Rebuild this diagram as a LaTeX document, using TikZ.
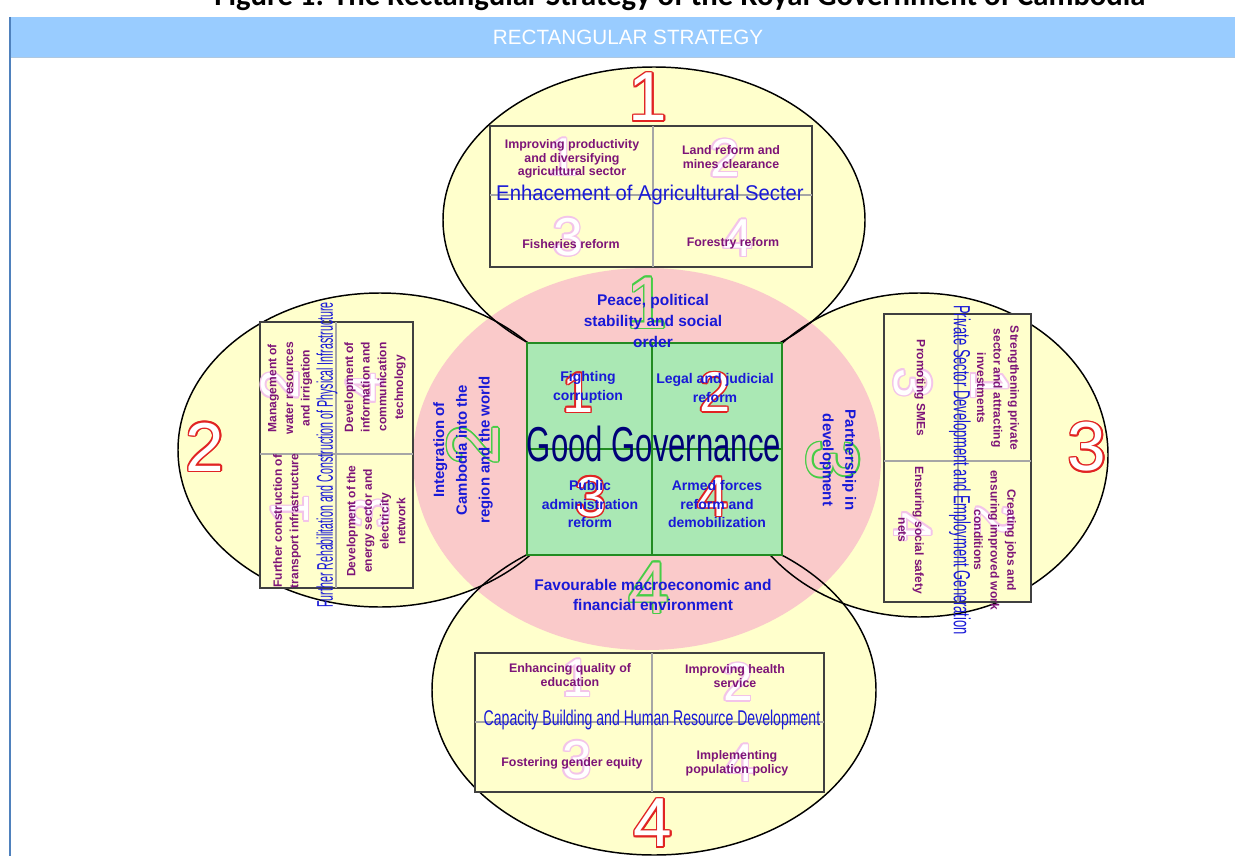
\documentclass[tikz,border=0pt]{standalone}
\usepackage{fontspec}
\setmainfont{Liberation Sans}
\newfontfamily\capfont{Carlito}
\usetikzlibrary{positioning}

\definecolor{bandblue}{RGB}{153,204,255}
\definecolor{frameblue}{RGB}{79,129,189}
\definecolor{petal}{RGB}{255,255,204}
\definecolor{ring}{RGB}{250,202,202}
\definecolor{core}{RGB}{170,232,180}
\definecolor{coreline}{RGB}{34,139,34}
\definecolor{goodblue}{RGB}{0,0,120}
\definecolor{inkblue}{RGB}{25,25,215}
\definecolor{plum}{RGB}{125,20,120}
\definecolor{numred}{RGB}{225,35,35}
\definecolor{numpale}{RGB}{243,196,233}
\definecolor{numgreen}{RGB}{70,205,70}

% outlined digit: name, position, rotation, size, line colour, fill colour, text
\newcommand{\hollow}[7]{%
  \foreach \ang in {0,30,...,330}
    \node[numtext, rotate=#3, text=#5, font=\fontsize{#4}{#4}\selectfont, shift={(\ang:1.5)}] at (#2) {#7};
  \node[numtext, rotate=#3, text=#6, font=\fontsize{#4}{#4}\selectfont] (#1) at (#2) {#7};
}

\begin{document}
\begin{tikzpicture}[x=0.75pt, y=-0.75pt,
    numtext/.style={inner sep=0pt},
    petaledge/.style={draw=black, line width=1.1pt},
    subbox/.style={draw=black!75, line width=1.3pt, fill=petal},
    divider/.style={draw=black!35, line width=0.8pt},
    boxtitle/.style={text=inkblue, font=\fontsize{16}{18}\selectfont, inner sep=0pt},
    aim/.style={text=plum, font=\bfseries\fontsize{9.3}{10.2}\selectfont, align=center, inner sep=0pt},
    sideaim/.style={aim, font=\bfseries\fontsize{9}{12.5}\selectfont},
    ringtext/.style={text=inkblue, font=\bfseries\fontsize{11.6}{15.5}\selectfont, align=center, inner sep=0pt},
    coretext/.style={text=inkblue, font=\bfseries\fontsize{10.5}{14.2}\selectfont, align=center, inner sep=0pt}]
    \useasboundingbox (0,0) rectangle (1235,856);

    % frame and heading
    \node[font=\capfont\bfseries\fontsize{23}{23}\selectfont, anchor=base, inner sep=0pt] (caption) at (680,6)
        {Figure 1: The Rectangular Strategy of the Royal Government of Cambodia};
    \fill[bandblue] (11,17) rectangle (1240,57);
    \draw[bandblue!80!black!60, line width=0.6pt] (11,57) -- (1240,57);
    \draw[frameblue, line width=2.2pt] (10,17) -- (10,860);
    \node[text=white, font=\fontsize{15.5}{16}\selectfont, inner sep=0pt] (heading) at (628,37) {RECTANGULAR STRATEGY};

    % petals
    \coordinate (ptop) at (654,220);
    \coordinate (pleft) at (380,450);
    \coordinate (pright) at (919,455);
    \coordinate (pbottom) at (654,690);
    \fill[petal] (ptop) ellipse (211 and 153);
    \fill[petal] (pleft) ellipse (202 and 157);
    \fill[petal] (pright) ellipse (189 and 162);
    \fill[petal] (pbottom) ellipse (222 and 165);
    \fill[ring] (647,459) ellipse (234 and 191);
    \draw[petaledge] (ptop) ellipse (211 and 153);
    \draw[petaledge] (pleft) ellipse (202 and 157);
    \draw[petaledge] (pright) ellipse (189 and 162);
    \draw[petaledge] (pbottom) ellipse (222 and 165);

    % core
    \draw[fill=core, draw=coreline, line width=1.6pt] (527,343) coordinate (coreNW) rectangle (782,555) coordinate (coreSE);
    \draw[coreline, line width=1.1pt] (652,343) -- (652,555);
    \draw[coreline, line width=0.8pt] (527,449) -- (782,449);

    % boxes
    \draw[subbox] (490,126) rectangle (812,267);
    \draw[divider] (653,126) -- (653,267) (490,195) -- (812,195);
    \draw[subbox] (260,322) rectangle (413,588);
    \draw[divider] (336,322) -- (336,588) (260,454) -- (413,454);
    \draw[subbox] (884,314) rectangle (1031,602);
    \draw[divider] (958,314) -- (958,602) (884,461) -- (1031,461);
    \draw[subbox] (475,653) rectangle (824,792);
    \draw[divider] (652,653) -- (652,792) (475,722) -- (824,722);

    % numbers
    \hollow{big1}{648,97}{0}{52}{numred}{white}{1}
    \hollow{big2}{205,447}{0}{52}{numred}{white}{2}
    \hollow{big3}{1087,447}{0}{52}{numred}{white}{3}
    \hollow{big4}{653,823}{0}{52}{numred}{white}{4}
    \hollow{ring1}{647,303}{0}{55}{numgreen}{ring}{1}
    \hollow{ring2}{473,445}{90}{55}{numgreen}{ring}{2}
    \hollow{ring3}{833,460}{-90}{55}{numgreen}{ring}{3}
    \hollow{ring4}{649,588}{0}{55}{numgreen}{ring}{4}
    \hollow{core1}{578,393}{0}{42}{numred}{white}{1}
    \hollow{core2}{715,392}{0}{42}{numred}{white}{2}
    \hollow{core3}{591,497}{0}{42}{numred}{white}{3}
    \hollow{core4}{713,497}{0}{42}{numred}{white}{4}
    \hollow{top1}{563,157}{0}{40}{numpale}{white}{1}
    \hollow{top2}{725,158}{0}{40}{numpale}{white}{2}
    \hollow{top3}{568,237}{0}{40}{numpale}{white}{3}
    \hollow{top4}{738,238}{0}{40}{numpale}{white}{4}
    \hollow{left1}{290,510}{90}{40}{numpale}{white}{1}
    \hollow{left2}{280,385}{90}{40}{numpale}{white}{2}
    \hollow{left3}{370,513}{90}{40}{numpale}{white}{3}
    \hollow{left4}{365,388}{90}{40}{numpale}{white}{4}
    \hollow{right1}{990,385}{-90}{40}{numpale}{white}{1}
    \hollow{right2}{995,520}{-90}{40}{numpale}{white}{2}
    \hollow{right3}{913,383}{-90}{40}{numpale}{white}{3}
    \hollow{right4}{913,527}{-90}{40}{numpale}{white}{4}
    \hollow{bot1}{577,678}{0}{40}{numpale}{white}{1}
    \hollow{bot2}{738,682}{0}{40}{numpale}{white}{2}
    \hollow{bot3}{577,760}{0}{40}{numpale}{white}{3}
    \hollow{bot4}{740,763}{0}{40}{numpale}{white}{4}

    % top petal
    \node[aim] (agri1) at (572,159) {Improving productivity\\and diversifying\\agricultural sector};
    \node[aim] (agri2) at (731,157) {Land reform and\\mines clearance};
    \node[aim] (agri3) at (571,244) {Fisheries reform};
    \node[aim] (agri4) at (733,243) {Forestry reform};
    \node[boxtitle] (agri) at (650,195) {\scalebox{0.95}[1]{Enhacement of Agricultural Secter}};

    % left petal
    \node[sideaim, rotate=90] (infra2) at (290,388) {Management of\\water resources\\and irrigation};
    \node[sideaim, rotate=90] (infra4) at (375,387) {Development of\\information and\\communication\\technology};
    \node[sideaim, rotate=90] (infra1) at (287,521) {Further construction of\\transport infrastructure};
    \node[sideaim, rotate=90] (infra3) at (376,521) {Development of the\\energy sector and\\electricity\\network};
    \node[boxtitle, rotate=90, font=\fontsize{17}{18}\selectfont] (infra) at (327,455) {\scalebox{0.47}[1]{Further Rehabilitation and Construction of Physical Infrastructure}};

    % right petal
    \node[sideaim, rotate=-90] (priv1) at (998,388) {Strengthening private\\sector and attracting\\investments};
    \node[sideaim, rotate=-90] (priv2) at (995,540) {Creating jobs and\\ensuring improved work\\conditions};
    \node[sideaim, rotate=-90] (priv3) at (920,388) {Promoting SMEs};
    \node[sideaim, rotate=-90] (priv4) at (911,530) {Ensuring social safety\\nets};
    \node[boxtitle, rotate=-90, font=\fontsize{17.5}{18}\selectfont] (priv) at (960,470) {\scalebox{0.555}[1]{Private Sector Development and Employment Generation}};

    % bottom petal
    \node[aim] (hr1) at (570,675) {Enhancing quality of\\education};
    \node[aim] (hr2) at (735,676) {Improving health\\service};
    \node[aim] (hr3) at (572,763) {Fostering gender equity};
    \node[aim] (hr4) at (737,763) {Implementing\\population policy};
    \node[boxtitle] (hr) at (652,720) {\scalebox{0.66}[1]{Capacity Building and Human Resource Development}};

    % ring
    \node[ringtext] (peace) at (653,321) {Peace, political\\stability and social\\order};
    \node[ringtext] (macro) at (653,595) {Favourable macroeconomic and\\financial environment};
    \node[ringtext, rotate=90, font=\bfseries\fontsize{11.2}{17}\selectfont] (integ) at (463,450) {Integration of\\Cambodia into the\\region and the world};
    \node[ringtext, rotate=-90, font=\bfseries\fontsize{11.2}{17}\selectfont] (partner) at (838,460) {Partnership in\\development};

    % core texts
    \node[coretext] (corr) at (588,387) {Fighting\\corruption};
    \node[coretext] (legal) at (715,388) {Legal and judicial\\reform};
    \node[coretext] (admin) at (590,504) {Public\\administration\\reform};
    \node[coretext] (armed) at (717,504) {Armed forces\\reform and\\demobilization};
    \node[text=goodblue, font=\fontsize{36.75}{40}\selectfont, inner sep=0pt] (good) at (654,444) {\scalebox{0.635}[1]{Good Governance}};
\end{tikzpicture}
\end{document}
